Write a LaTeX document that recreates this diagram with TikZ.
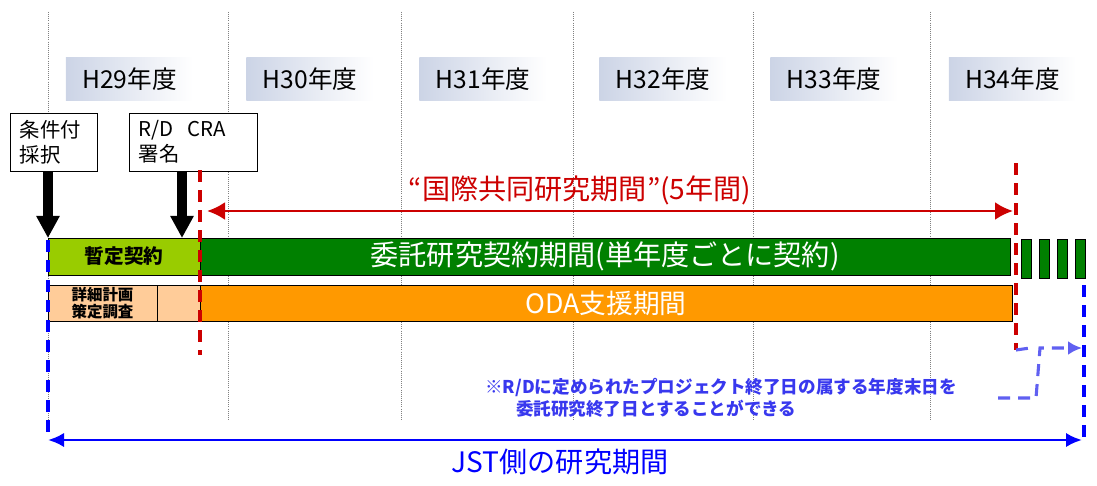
\documentclass[tikz,border=0pt]{standalone}
\usepackage{fontspec}
\setmainfont{Noto Sans CJK JP}
\usepackage{xcolor}
\usetikzlibrary{calc, arrows.meta, positioning}

\definecolor{spanred}{HTML}{CC0000}
\definecolor{jstblue}{HTML}{0000FF}
\definecolor{noteblue}{HTML}{3838EE}
\definecolor{leaf}{HTML}{99CC00}
\definecolor{forest}{HTML}{008000}
\definecolor{peach}{HTML}{FFCC99}
\definecolor{amber}{HTML}{FF9900}
\definecolor{yearbg}{HTML}{CCD4E6}

\tikzset{
  bar/.style={draw=black, line width=0.6pt, inner sep=0pt, outer sep=0pt, minimum height=0.925cm},
  yearlabel/.style={left color=yearbg, right color=white, inner sep=0pt, minimum width=3.175cm,
    minimum height=1.05cm, font=\fontsize{17.5}{17.5}\selectfont},
  callout/.style={draw, fill=white, line width=0.6pt, align=left, inner xsep=0.25cm,
    minimum height=1.45cm, font=\fontsize{14.5}{17.5}\selectfont},
  gridline/.style={gray, densely dotted, line width=0.5pt},
  pointer/.style={line width=7pt, -{Triangle[length=5.5mm, width=5.5mm]}},
  reddash/.style={spanred, line width=2.2pt, dash pattern=on 0.3cm off 0.2cm},
  bluedash/.style={jstblue, line width=2.6pt, dash pattern=on 0.3cm off 0.2cm}
}

\begin{document}
\begin{tikzpicture}[x=0.025cm, y=-0.025cm]
  \useasboundingbox (0,0) rectangle (1097,486);

  % fiscal years
  \foreach \gx in {48,228,401,573,753,930}
    \draw[gridline] (\gx,12) -- (\gx,420);
  \foreach \yx/\yr in {129.5/29, 310/30, 483/31, 663/32, 834/33, 1012.5/34}
    \node[yearlabel] (fy\yr) at (\yx,79) {H\yr{}年度};

  % contract bars
  \node[bar, fill=leaf, minimum width=3.8cm, font=\bfseries\fontsize{14}{14}\selectfont] (interim) at (124,256.5) {暫定契約};
  \node[bar, fill=forest, text=white, minimum width=20.25cm, right=0pt of interim,
    font=\fontsize{20}{20}\selectfont] (contract) {委託研究契約期間(単年度ごとに契約)};
  \foreach \tx [count=\i] in {1021,1039,1057,1075}
    \node[bar, fill=forest, minimum width=0.25cm, minimum height=0.975cm, anchor=north west] (tail\i) at (\tx,239) {};

  \node[bar, fill=peach, minimum width=2.725cm, minimum height=0.9cm, align=center,
    font=\bfseries\fontsize{11}{12.5}\selectfont] (survey) at (102.5,303) {詳細計画\\策定調査};
  \node[bar, fill=peach, minimum width=1.075cm, minimum height=0.9cm, right=0pt of survey] (surveyrest) {};
  \node[bar, fill=amber, text=white, minimum width=20.3cm, minimum height=0.9cm, right=0pt of surveyrest,
    font=\fontsize{19}{19}\selectfont] (oda) {ODA支援期間};

  % milestones
  \node[callout, text width=1.675cm] (adopt) at (53.5,142) {条件付\\採択};
  \node[callout, text width=2.7cm] (rdcra) at (193,142) {R/D\ \ CRA\\署名};
  \draw[pointer] (adopt.south -| interim.west) -- (interim.north west);
  \draw[pointer] ($(rdcra.south)+(-11,0)$) coordinate (sign) -- (sign |- interim.north);

  % joint research period
  \coordinate (jointtop) at (200,170);
  \coordinate (jointbot) at (200,355);
  \coordinate (endtop) at (1016,163);
  \coordinate (endbot) at (1016,350);
  \draw[reddash] (jointtop) -- (jointbot);
  \draw[reddash] (endtop) -- (endbot);
  \coordinate (jointl) at (207,211);
  \coordinate (jointr) at (1013,211);
  \draw[spanred, line width=2pt, {Latex[length=4.5mm, width=4.5mm]}-{Latex[length=4.5mm, width=4.5mm]}] (jointl) -- (jointr);
  \node[text=spanred, font=\fontsize{20}{20}\selectfont] (jointlabel) at (580,190) {“国際共同研究期間”(5年間)};

  % JST period
  \coordinate (jstl) at (48,440);
  \coordinate (jstr) at (1082,440);
  \draw[bluedash] (48,240) -- (jstl);
  \draw[bluedash] (1084,285) -- (1084,445);
  \draw[jstblue, line width=2pt, {Latex[length=4mm, width=3.6mm]}-{Latex[length=4mm, width=3.6mm]}] (jstl) -- (jstr);
  \node[text=jstblue, font=\fontsize{20}{20}\selectfont] (jstlabel) at (560,462) {JST側の研究期間};

  % note
  \node[text=noteblue, anchor=north west, align=left, inner sep=0pt,
    font=\bfseries\fontsize{12.5}{15.5}\selectfont] (note) at (485,378)
    {※R/Dに定められたプロジェクト終了日の属する年度末日を\\\hspace*{1.75em}委託研究終了日とすることができる};
  \coordinate (shiftl) at (998,398);
  \coordinate (shiftr) at (1082,348);
  \begin{scope}[noteblue!80!white, line width=2.2pt, dash pattern=on 0.3cm off 0.2cm]
    \draw[-{Latex[length=3.5mm, width=3.5mm]}] (shiftl) -- (1036,398) -- (1040,348) -- (shiftr);
    \draw (endbot) -- (1030,348);
  \end{scope}
\end{tikzpicture}
\end{document}
